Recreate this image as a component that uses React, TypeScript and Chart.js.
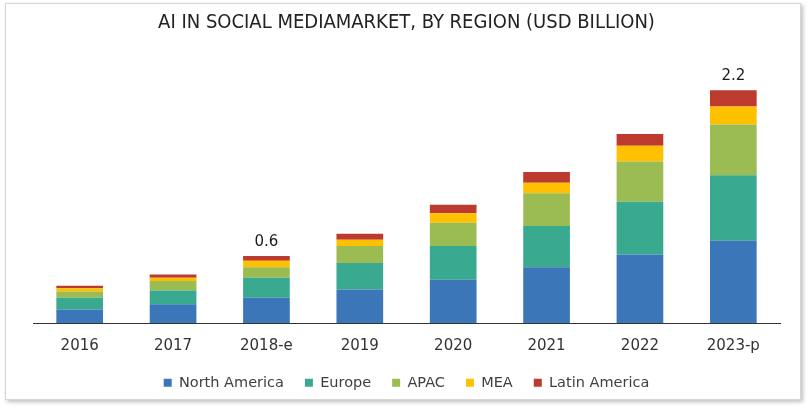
import React, { useEffect, useRef } from "react";
import { Chart, registerables } from "chart.js";

Chart.register(...registerables);

const categories = ["2016", "2017", "2018-e", "2019", "2020", "2021", "2022", "2023-p"];
const northAmerica = [0.13, 0.18, 0.24, 0.32, 0.41, 0.53, 0.65, 0.78];
const europe = [0.11, 0.13, 0.19, 0.25, 0.32, 0.39, 0.5, 0.62];
const apac = [0.06, 0.09, 0.1, 0.16, 0.22, 0.31, 0.38, 0.48];
const mea = [0.03, 0.03, 0.06, 0.06, 0.09, 0.1, 0.15, 0.17];
const latinAmerica = [0.025, 0.03, 0.045, 0.057, 0.082, 0.1, 0.11, 0.155];
const totalLabels = ["", "", "0.6", "", "", "", "", "2.2"];

const seriesNames = ["North America", "Europe", "APAC", "MEA", "Latin America"];
const seriesColors = ["#3A76B8", "#39A98F", "#9BBB53", "#FFC000", "#BD3A2F"];

const FONT = "'DejaVu Sans', Verdana, sans-serif";

const totalsPlugin = {
  id: "totalsPlugin",
  afterDatasetsDraw(chart: any) {
    const ctx = chart.ctx;
    const last = chart.data.datasets.length - 1;
    const meta = chart.getDatasetMeta(last);
    ctx.save();
    ctx.font = `15px ${FONT}`;
    ctx.fillStyle = "#1a1a1a";
    ctx.textAlign = "center";
    ctx.textBaseline = "middle";
    totalLabels.forEach((t, i) => {
      if (!t) return;
      const el = meta.data[i];
      ctx.fillText(t, el.x, el.y - 14);
    });
    ctx.restore();
  },
};

export default function App() {
  const ref = useRef<HTMLCanvasElement | null>(null);

  useEffect(() => {
    if (!ref.current) return;
    const allSeries = [northAmerica, europe, apac, mea, latinAmerica];
    const chart = new Chart(ref.current, {
      type: "bar",
      data: {
        labels: categories,
        datasets: allSeries.map((d, i) => ({
          label: seriesNames[i],
          data: d,
          backgroundColor: seriesColors[i],
          borderWidth: 0,
          barPercentage: 0.5,
          categoryPercentage: 1.0,
        })),
      },
      options: {
        responsive: true,
        maintainAspectRatio: false,
        animation: false,
        layout: { padding: { left: 33, right: 29, top: 0, bottom: 11 } },
        plugins: {
          title: {
            display: true,
            text: "AI IN SOCIAL MEDIAMARKET, BY REGION (USD BILLION)",
            color: "#222",
            font: { family: "'Liberation Sans Narrow', 'DejaVu Sans Condensed', sans-serif", size: 20, weight: "normal" },
            padding: { top: 11, bottom: 24 },
          },
          legend: {
            position: "bottom",
            labels: {
              boxWidth: 8,
              boxHeight: 8,
              padding: 21,
              color: "#404040",
              font: { family: FONT, size: 14.5 },
            },
          },
          tooltip: { enabled: false },
        },
        scales: {
          x: {
            stacked: true,
            grid: { display: false, drawTicks: false },
            border: { display: true, color: "#333", width: 1 },
            ticks: { color: "#333", font: { family: FONT, size: 15 }, padding: 14 },
            afterFit: (scale: any) => {
              scale.height -= 14.7;
            },
          },
          y: {
            stacked: true,
            display: false,
            min: 0,
            max: 2.5,
          },
        },
      },
      plugins: [totalsPlugin],
    });
    return () => chart.destroy();
  }, []);

  return (
    <div style={{ position: "absolute", left: 0, top: 0, width: 809, height: 411, background: "#fff" }}>
      <div
        style={{
          position: "absolute",
          left: 5,
          top: 3,
          width: 794,
          height: 395,
          border: "1px solid #d6d6d6",
          boxShadow: "2px 2px 4px rgba(0,0,0,0.25)",
          background: "#fff",
        }}
      />
      <div style={{ position: "absolute", left: 0, top: 0, width: 809, height: 411 }}>
        <canvas ref={ref} />
      </div>
    </div>
  );
}
